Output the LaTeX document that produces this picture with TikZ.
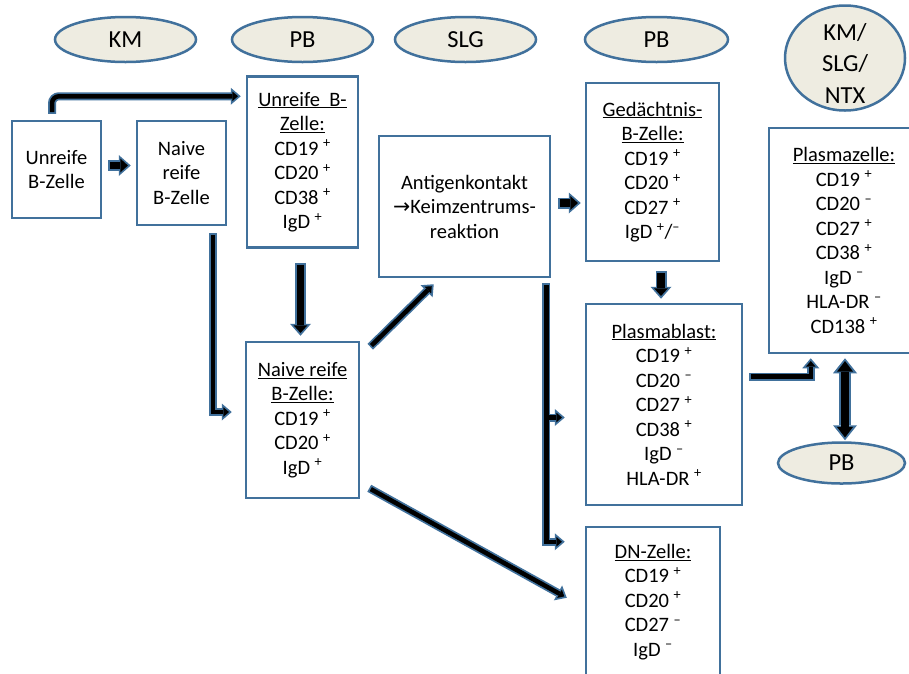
\documentclass[tikz,border=0pt]{standalone}
\usepackage{fontspec}
\setmainfont{Carlito}
\newfontfamily\symfont{DejaVu Sans}
\usetikzlibrary{arrows.meta,calc,shapes.geometric}
\definecolor{bcol}{HTML}{41719C}
\definecolor{efill}{HTML}{EEECE1}
\newcommand\splus{\hspace{0.22em}\textsuperscript{+}}
\newcommand\sminus{\hspace{0.22em}\textsuperscript{–}}
\begin{document}
\begin{tikzpicture}[x=1pt,y=-1pt,
  box/.style={draw=bcol, line width=2.5pt, fill=white, inner sep=0pt, align=center,
    font=\fontsize{20.5}{24.5}\selectfont},
  loc/.style={ellipse, draw=bcol, line width=2.5pt, fill=efill, inner sep=0pt,
    font=\fontsize{24.5}{31.5}\selectfont, align=center},
  tho/.style={draw=bcol, line width=8pt, -{Triangle[length=10pt,width=17pt,line width=0pt]}},
  thi/.style={draw=black, line width=4.5pt, shorten >=2.8pt, shorten <=1.75pt,
    -{Triangle[length=5.5pt,width=9.5pt,line width=0pt]}},
  fto/.style={draw=bcol, line width=11pt, -{Triangle[length=12pt,width=21pt,line width=0pt]}},
  fti/.style={draw=black, line width=7.5pt, shorten >=2.8pt, shorten <=1.75pt,
    -{Triangle[length=7.5pt,width=13.6pt,line width=0pt]}},
  fdo/.style={draw=bcol, line width=12pt,
    {Triangle[length=15pt,width=24pt,line width=0pt]}-{Triangle[length=15pt,width=24pt,line width=0pt]}},
  fdi/.style={draw=black, line width=8pt, shorten >=2.8pt, shorten <=2.8pt,
    {Triangle[length=10.5pt,width=16pt,line width=0pt]}-{Triangle[length=10.5pt,width=16pt,line width=0pt]}},
]
\clip (0,0) rectangle (909,673);
\fill[white] (0,0) rectangle (909,673);

% location ellipses
\node[loc, minimum width=141pt, minimum height=45pt] (km) at (125.5,39.5) {KM};
\node[loc, minimum width=141pt, minimum height=45pt] (pb1) at (302.5,39.5) {PB};
\node[loc, minimum width=141pt, minimum height=45pt] (slg) at (465.5,39.5) {SLG};
\node[loc, minimum width=143pt, minimum height=45pt] (pb2) at (656.5,39.5) {PB};
\node[loc, minimum width=120pt, minimum height=105pt] (kms) at (845,58) {};
\node[align=center, inner sep=0pt, font=\fontsize{24.5}{31.5}\selectfont] (kmstext) at (845,63) {KM/\\SLG/\\NTX};
\node[loc, minimum width=127pt, minimum height=41pt] (pbb) at (841.5,463) {PB};

% cell boxes
\node[box, minimum width=89pt, minimum height=97pt] (box1) at (56.5,169.5) {Unreife\\B-Zelle};
\node[box, minimum width=89pt, minimum height=104pt] (box2) at (181.5,173) {Naive\\reife\\B-Zelle};
\node[box, minimum width=111pt, minimum height=171pt] (box3) at (302.5,162)
  {\underline{Unreife\ \ B-}\\\underline{Zelle:}\\CD19\splus\\CD20\splus\\CD38\splus\\IgD\splus};
\node[box, minimum width=171pt, minimum height=141pt] (box4) at (464.5,206.5)
  {Antigenkontakt\\{\symfont\fontsize{20.5}{20}\selectfont →}Keimzentrums-\\reaktion};
\node[box, minimum width=133pt, minimum height=178pt] (box5) at (652.5,172)
  {\underline{Gedächtnis-}\\\underline{B-Zelle:}\\CD19\splus\\CD20\splus\\CD27\splus\\IgD\splus/\textsuperscript{–}};
\node[box, minimum width=156pt, minimum height=201pt] (box6) at (664,404.5)
  {\underline{Plasmablast:}\\CD19\splus\\CD20\sminus\\CD27\splus\\CD38\splus\\IgD\sminus\\HLA-DR\splus};
\node[box, minimum width=134pt, minimum height=150pt] (box7) at (653,602)
  {\underline{DN-Zelle:}\\CD19\splus\\CD20\splus\\CD27\sminus\\IgD\sminus};
\node[box, minimum width=113pt, minimum height=156pt] (box8) at (302.5,420)
  {\underline{Naive reife}\\\underline{B-Zelle:}\\CD19\splus\\CD20\splus\\IgD\splus};
\node[box, minimum width=150pt, minimum height=225pt] (box9) at (844,240.5)
  {\underline{Plasmazelle:}\\CD19\splus\\CD20\sminus\\CD27\splus\\CD38\splus\\IgD\sminus\\HLA-DR\sminus\\CD138\splus};

% connector end points
\coordinate (a1s) at ($(box1.north)+(-4.5,-6)$);
\coordinate (a1e) at ($(box3.north west)+(-5,21)$);
\coordinate (a2s) at ($(box1.east)+(6,-4)$);
\coordinate (a2e) at ($(box2.west |- a2s)+(-5,0)$);
\coordinate (a3s) at ($(box2.south)+(31.5,7)$);
\coordinate (a3e) at ($(box8.west)+(-13,-8)$);
\coordinate (a4s) at ($(box3.south)+(-2,14)$);
\coordinate (a4e) at ($(box8.north)+(-2,-5)$);
\coordinate (a5s) at ($(box8.north east)+(10,6)$);
\coordinate (a5e) at ($(box4.south west)+(56,6)$);
\coordinate (a6s) at ($(box4.east)+(7,-3.5)$);
\coordinate (a6e) at ($(box5.west |- a6s)+(-4,0)$);
\coordinate (a7s) at ($(box5.south)+(8.5,9)$);
\coordinate (a7e) at ($(a7s |- box6.north)+(0,-4)$);
\coordinate (a8s) at ($(box4.south east)+(-5,5)$);
\coordinate (a8e) at ($(box7.north west)+(-20,16)$);
\coordinate (a8b) at ($(box6.west)+(-20,13)$);
\coordinate (a9s) at ($(box8.south east)+(9,-11)$);
\coordinate (a9e) at ($(box7.north west)+(-18,72)$);
\coordinate (a10s) at ($(box6.east)+(6,-28)$);
\coordinate (a10e) at ($(box9.south west)+(43,4)$);
\coordinate (a11s) at ($(box9.south)+(1,4)$);
\coordinate (a11e) at ($(a11s |- pbb.north)+(0,-1)$);

% connectors: blue outline pass, then black core pass
\draw[tho, rounded corners=7pt] (a1s) |- (a1e);
\draw[thi, rounded corners=7pt] (a1s) |- (a1e);
\draw[fto] (a2s) -- (a2e);
\draw[fti] (a2s) -- (a2e);
\draw[tho] (a3s) |- (a3e);
\draw[thi] (a3s) |- (a3e);
\draw[fto] (a4s) -- (a4e);
\draw[fti] (a4s) -- (a4e);
\draw[tho] (a5s) -- (a5e);
\draw[thi] (a5s) -- (a5e);
\draw[fto] (a6s) -- (a6e);
\draw[fti] (a6s) -- (a6e);
\draw[fto] (a7s) -- (a7e);
\draw[fti] (a7s) -- (a7e);
\draw[tho] (a8s) |- (a8e);
\draw[tho] (a8s |- a8b) -- (a8b);
\draw[thi] (a8s) |- (a8e);
\draw[thi] (a8s |- a8b) -- (a8b);
\draw[tho] (a9s) -- (a9e);
\draw[thi] (a9s) -- (a9e);
\draw[tho] (a10s) -| (a10e);
\draw[thi] (a10s) -| (a10e);
\draw[fdo] (a11s) -- (a11e);
\draw[fdi] (a11s) -- (a11e);
\end{tikzpicture}
\end{document}
